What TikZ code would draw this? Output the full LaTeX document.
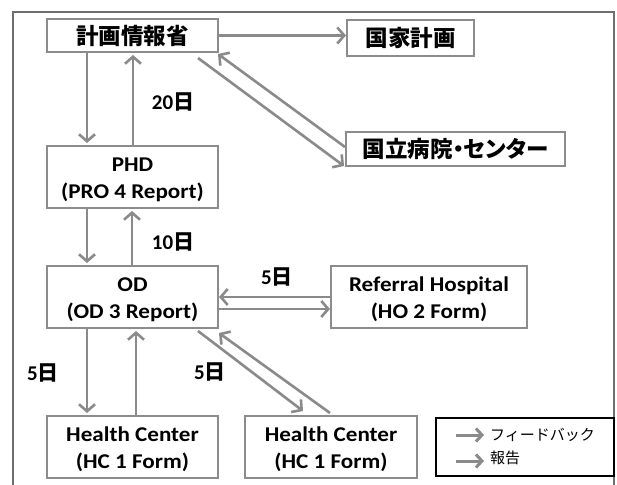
\documentclass[tikz,border=0pt]{standalone}
\usepackage{fontspec}
\setmainfont{Carlito}
\newfontfamily\boxf{Carlito}[FakeStretch=1.1]
\newfontfamily\jp{Noto Sans CJK JP}
\newfontfamily\jpp{Noto Sans CJK JP}[RawFeature=+palt]
\usetikzlibrary{arrows.meta,calc}
\definecolor{boxgray}{HTML}{8C8C8C}
\definecolor{arrgray}{HTML}{8A8A8A}
\definecolor{framegray}{HTML}{6E6E6E}
\begin{document}
\begin{tikzpicture}[x=1pt,y=-1pt,
  box/.style={draw=boxgray,line width=2pt,fill=white,inner sep=0pt,align=center,
    font=\boxf\bfseries\fontsize{21}{27}\selectfont,text height=45pt,text depth=3pt},
  jbox/.style={draw=boxgray,line width=2pt,fill=white,inner sep=0pt,
    font=\jpp\bfseries\fontsize{22.5}{26}\selectfont},
  arr/.style={draw=arrgray,line width=2.6pt,-{Straight Barb[length=7pt,width=16pt]}},
  lbl/.style={font=\bfseries\fontsize{21}{25}\selectfont,inner sep=0pt},
  legtxt/.style={font=\jp\fontsize{15}{18}\selectfont,inner sep=0pt,anchor=west},
  ]
\useasboundingbox (0,0) rectangle (617,484);
\fill[white] (0,0) rectangle (617,484);
\draw[framegray,line width=2pt] (13,490) -- (13,12) -- (614,12) -- (614,490);

% nodes
\node[jbox,minimum width=171pt,minimum height=33pt] (min) at (132.5,35.5) {計画情報省};
\node[jbox,minimum width=127pt,minimum height=36pt] (kok) at (410.5,38) {国家計画};
\node[jbox,minimum width=219pt,minimum height=34pt] (natl) at (455.5,149) {国立病院・センター};
\node[box,minimum width=171pt,minimum height=62pt] (phd) at (132.5,177) {PHD\\(PRO 4 Report)};
\node[box,minimum width=171pt,minimum height=62pt] (od) at (132.5,297) {OD\\(OD 3 Report)};
\node[box,minimum width=196pt,minimum height=62pt] (ref) at (429,297) {Referral Hospital\\(HO 2 Form)};
\node[box,minimum width=171pt,minimum height=62pt] (hc1) at (132.5,447) {Health Center\\(HC 1 Form)};
\node[box,minimum width=172pt,minimum height=62pt] (hc2) at (331,447) {Health Center\\(HC 1 Form)};

% connectors
\draw[arr] (min.east) -- (min.east -| kok.west);
\draw[arr] ($(min.south west)+(41,0)$) -- ($(phd.north west)+(41,-2)$);
\draw[arr] ($(phd.north west)+(87,0)$) -- ($(min.south west)+(87,2)$);
\draw[arr] ($(min.south east)+(-21,5)$) -- ($(natl.south west)+(-1,-1)$);
\draw[arr] ($(natl.west)+(0,-2)$) -- ($(min.south east)+(-1,1)$);
\draw[arr] ($(phd.south west)+(41,0)$) -- ($(od.north west)+(41,-2)$);
\draw[arr] ($(od.north west)+(86,0)$) -- ($(phd.south west)+(86,2)$);
\draw[arr] (ref.west) -- (ref.west -| od.east);
\draw[arr] ($(od.east)+(0,12)$) -- ($(ref.west)+(0,12)$);
\draw[arr] ($(od.south west)+(41,0)$) -- ($(hc1.north west)+(41,-2)$);
\draw[arr] ($(hc1.north west)+(90,0)$) -- ($(od.south west)+(90,2)$);
\draw[arr] ($(od.south east)+(-21,2)$) -- ($(hc2.north)+(-28,-4)$);
\draw[arr] ($(hc2.north)+(-1,-2)$) -- ($(od.south east)+(0,4)$);

% labels
\node[lbl] (l20) at (173,102) {20{\jp 日}};
\node[lbl] (l10) at (173,242) {10{\jp 日}};
\node[lbl] (l5a) at (277,277) {5{\jp 日}};
\node[lbl] (l5b) at (43,373) {5{\jp 日}};
\node[lbl] (l5c) at (210,372) {5{\jp 日}};

% legend
\node[draw=black,line width=1.2pt,minimum width=178pt,minimum height=58pt,inner sep=0pt] (leg) at (525,447) {};
\coordinate (fbs) at (456,435);
\coordinate (fbe) at (484,435);
\coordinate (rps) at (456,461);
\coordinate (rpe) at (484,461);
\draw[arr,line width=3pt,-{Straight Barb[length=6pt,width=13pt]}] (fbs) -- (fbe);
\draw[arr,line width=3pt,-{Straight Barb[length=6pt,width=13pt]}] (rps) -- (rpe);
\node[legtxt] (fbt) at (490,435) {フィードバック};
\node[legtxt] (rpt) at (490,458) {報告};
\end{tikzpicture}
\end{document}
